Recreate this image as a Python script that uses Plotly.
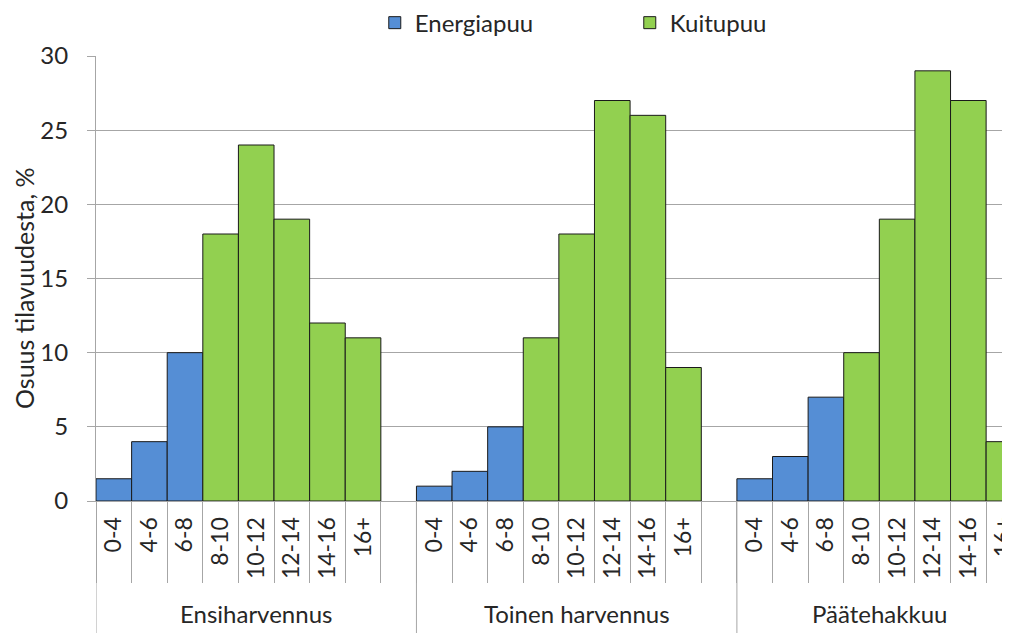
import plotly.graph_objects as go

# puutavaralajin osuus läpimittaluokittain (%)
groups = ["Ensiharvennus", "Toinen harvennus", "Päätehakkuu"]
sizes = ["0-4", "4-6", "6-8", "8-10", "10-12", "12-14", "14-16", "16+"]
energia_sizes = ["0-4", "4-6", "6-8"]

ensiharvennus = [1.5, 4, 10, 18, 24, 19, 12, 11]
toinen_harvennus = [1, 2, 5, 11, 18, 27, 26, 9]
paatehakkuu = [1.5, 3, 7, 10, 19, 29, 27, 4]
values = [ensiharvennus, toinen_harvennus, paatehakkuu]

BLUE = "#558ED5"
GREEN = "#92D050"
GRID = "#A6A6A6"
TXT = "#262626"
FONT = "Lato"

slots = len(sizes) + 1  # one empty slot after each group

x_e, y_e, x_k, y_k = [], [], [], []
tickvals, ticktext = [], []
for g, vals in enumerate(values):
    for i, (s, v) in enumerate(zip(sizes, vals)):
        pos = g * slots + i
        tickvals.append(pos)
        ticktext.append(s)
        if s in energia_sizes:
            x_e.append(pos)
            y_e.append(v)
        else:
            x_k.append(pos)
            y_k.append(v)

fig = go.Figure()
fig.add_trace(go.Bar(x=x_e, y=y_e, name="Energiapuu", width=1,
                     marker=dict(color=BLUE, line=dict(color="#1a1a1a", width=1))))
fig.add_trace(go.Bar(x=x_k, y=y_k, name="Kuitupuu", width=1,
                     marker=dict(color=GREEN, line=dict(color="#1a1a1a", width=1))))

# boundaries between bars (short) and between groups (long)
minor_vals = []
for g in range(len(groups)):
    for i in range(slots):
        minor_vals.append(g * slots + i - 0.5)

for g in range(len(groups)):
    fig.add_shape(type="line", xref="x", yref="paper",
                  x0=g * slots - 0.5, x1=g * slots - 0.5, y0=0, y1=-0.35,
                  line=dict(color=GRID, width=1), layer="below")
    fig.add_annotation(x=g * slots + (len(sizes) - 1) / 2 + (0.5 if g < 2 else 0),
                       y=-0.29, xref="x", yref="paper",
                       text=groups[g], showarrow=False,
                       font=dict(family=FONT, size=24, color=TXT))

# y-akselin otsikko
fig.add_annotation(x=-0.078, y=0.478, xref="paper", yref="paper",
                   xanchor="center", yanchor="middle",
                   text="Osuus tilavuudesta, %", textangle=-90, showarrow=False,
                   font=dict(family=FONT, size=25, color=TXT))

# the page has an 8px body margin, so the figure is shifted by 8px
fig.update_layout(
    width=1010, height=633,
    margin=dict(l=88, r=8, t=48, b=140, autoexpand=False),
    plot_bgcolor="white", paper_bgcolor="white",
    barmode="overlay",
    font=dict(family=FONT, size=24, color=TXT),
    showlegend=True,
    legend=dict(orientation="h", x=0.305, xanchor="left", y=1.074, yanchor="middle",
                entrywidth=210, entrywidthmode="pixels",
                font=dict(family=FONT, size=24, color=TXT),
                itemwidth=30, traceorder="normal"),
    xaxis=dict(
        range=[-0.5, 25.17],
        tickmode="array", tickvals=tickvals, ticktext=ticktext,
        tickangle=-90, ticks="", showgrid=False, zeroline=False,
        showline=True, linecolor=GRID, linewidth=1,
        ticklabelstandoff=6,
        tickfont=dict(family=FONT, size=23, color=TXT),
        minor=dict(tickmode="array", tickvals=minor_vals, ticks="outside",
                   ticklen=81, tickcolor=GRID, tickwidth=1, showgrid=False),
    ),
    yaxis=dict(
        range=[0, 30], tickmode="array", tickvals=[0, 5, 10, 15, 20, 25, 30],
        ticks="outside", ticklen=8, tickcolor=GRID,
        showgrid=True, gridcolor=GRID, gridwidth=1,
        showline=True, linecolor=GRID, linewidth=1, zeroline=False,
        ticklabelstandoff=14,
        tickfont=dict(family=FONT, size=24, color=TXT),
    ),
)

fig.write_html("out.html")
